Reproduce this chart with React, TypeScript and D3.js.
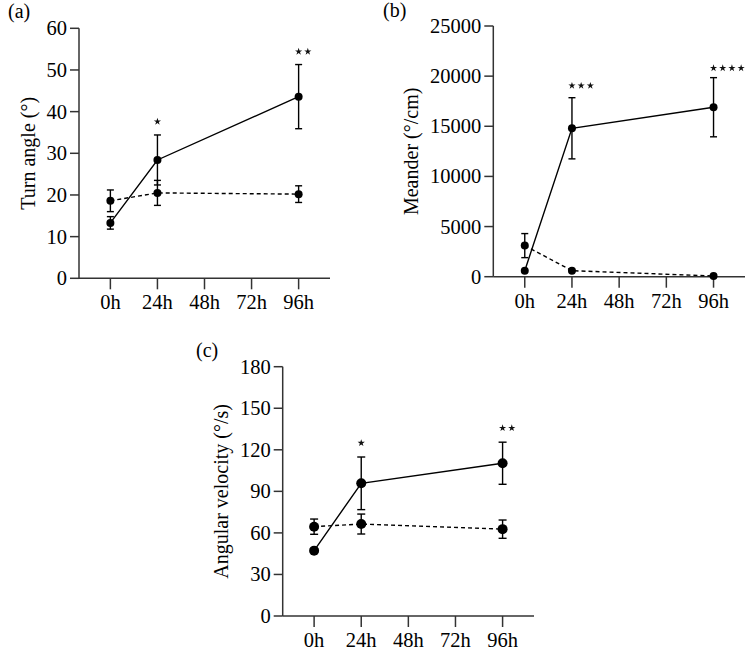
import React from 'react';
import * as d3 from 'd3';

const timeTicks = [0, 24, 48, 72, 96];
const timeLabels = ['0h', '24h', '48h', '72h', '96h'];
const sampleTimes = [0, 24, 96];

// (a) Turn angle
const turnSolidMean = [13.3, 28.4, 43.6];
const turnSolidErr = [1.5, 6.0, 7.7];
const turnDashMean = [18.6, 20.5, 20.2];
const turnDashErr = [2.6, 3.0, 2.0];
const turnTicks = [0, 10, 20, 30, 40, 50, 60];
const turnStarTimes = [24, 96];
const turnStarValues = [37.6, 54.4];
const turnStarCounts = [1, 2];

// (b) Meander
const meanderSolidMean = [600, 14800, 16900];
const meanderSolidErr = [0, 3050, 2950];
const meanderDashMean = [3100, 600, 70];
const meanderDashErr = [1200, 0, 0];
const meanderTicks = [0, 5000, 10000, 15000, 20000, 25000];
const meanderStarTimes = [24, 96];
const meanderStarValues = [19050, 20800];
const meanderStarCounts = [3, 4];

// (c) Angular velocity
const angSolidMean = [47.2, 95.8, 110.3];
const angSolidErr = [0, 19, 15.2];
const angDashMean = [64.5, 66.4, 62.7];
const angDashErr = [5.5, 7.2, 6.6];
const angTicks = [0, 30, 60, 90, 120, 150, 180];
const angStarTimes = [24, 96];
const angStarValues = [124.9, 135.7];
const angStarCounts = [1, 2];

const FONT = '"Liberation Serif", "Times New Roman", serif';
const AXIS = '#333';

type PanelProps = {
  x0: number; x1: number; yTop: number; yBot: number;
  yMax: number; ticks: number[];
  solidMean: number[]; solidErr: number[];
  dashMean: number[]; dashErr: number[];
  starTimes: number[]; starValues: number[]; starCounts: number[];
  title: string; titleX: number; label: string; labelX: number; labelY: number;
  r: number; cap: number;
};

const starPath = d3.symbol(d3.symbolStar, 16)() || '';

function Panel(p: PanelProps) {
  const x = d3.scaleLinear().domain([-16, 112]).range([p.x0, p.x1]);
  const y = d3.scaleLinear().domain([0, p.yMax]).range([p.yBot, p.yTop]);
  const line = d3.line<number>().x((_, i) => x(sampleTimes[i])).y(d => y(d));
  const errBars = (means: number[], errs: number[], key: string) =>
    means.map((m, i) => {
      const e = errs[i];
      if (!e) return null;
      const cx = x(sampleTimes[i]);
      const t = y(m + e), b = y(m - e);
      return (
        <g key={key + i} stroke="#000" strokeWidth={1.4}>
          <line x1={cx} x2={cx} y1={t} y2={b} />
          <line x1={cx - p.cap / 2} x2={cx + p.cap / 2} y1={t} y2={t} />
          <line x1={cx - p.cap / 2} x2={cx + p.cap / 2} y1={b} y2={b} />
        </g>
      );
    });
  const midY = (p.yTop + p.yBot) / 2;
  return (
    <g fontFamily={FONT} fill="#000">
      <text x={p.labelX} y={p.labelY} fontSize={20}>{p.label}</text>
      <line x1={p.x0} x2={p.x0} y1={p.yTop} y2={p.yBot} stroke={AXIS} strokeWidth={1.5} />
      <line x1={p.x0} x2={p.x1} y1={p.yBot} y2={p.yBot} stroke={AXIS} strokeWidth={1.5} />
      {p.ticks.map(t => (
        <g key={'yt' + t}>
          <line x1={p.x0 - 9} x2={p.x0} y1={y(t)} y2={y(t)} stroke={AXIS} strokeWidth={1.5} />
          <text x={p.x0 - 12} y={y(t) + 7} fontSize={20.5} textAnchor="end">{t}</text>
        </g>
      ))}
      {timeTicks.map((t, i) => (
        <g key={'xt' + t}>
          <line x1={x(t)} x2={x(t)} y1={p.yBot} y2={p.yBot + 11} stroke={AXIS} strokeWidth={1.5} />
          <text x={x(t)} y={p.yBot + 31} fontSize={20.5} textAnchor="middle">{timeLabels[i]}</text>
        </g>
      ))}
      <text transform={`translate(${p.titleX},${midY}) rotate(-90)`} fontSize={20} textAnchor="middle">{p.title}</text>
      <path d={line(p.dashMean) || ''} fill="none" stroke="#000" strokeWidth={1.4} strokeDasharray="4,3" />
      {errBars(p.dashMean, p.dashErr, 'de')}
      {p.dashMean.map((m, i) => <circle key={'dc' + i} cx={x(sampleTimes[i])} cy={y(m)} r={p.r} fill="#000" />)}
      <path d={line(p.solidMean) || ''} fill="none" stroke="#000" strokeWidth={1.4} />
      {errBars(p.solidMean, p.solidErr, 'se')}
      {p.solidMean.map((m, i) => <circle key={'sc' + i} cx={x(sampleTimes[i])} cy={y(m)} r={p.r} fill="#000" />)}
      {p.starTimes.map((t, i) =>
        d3.range(p.starCounts[i]).map(k => (
          <path key={'st' + i + '_' + k} d={starPath}
            transform={`translate(${x(t) + k * 9.2},${y(p.starValues[i])})`} fill="#111" />
        ))
      )}
    </g>
  );
}

export default function App() {
  return (
    <div style={{ position: 'absolute', left: 0, top: 0 }}>
      <svg width={750} height={658} style={{ display: 'block', background: '#fff' }}>
        <Panel x0={79} x1={330} yTop={28.3} yBot={278.3} yMax={60} ticks={turnTicks}
          solidMean={turnSolidMean} solidErr={turnSolidErr} dashMean={turnDashMean} dashErr={turnDashErr}
          starTimes={turnStarTimes} starValues={turnStarValues} starCounts={turnStarCounts}
          title="Turn angle (°)" titleX={35} label="(a)" labelX={8} labelY={18} r={4} cap={7} />
        <Panel x0={493.3} x1={745} yTop={26} yBot={276.7} yMax={25000} ticks={meanderTicks}
          solidMean={meanderSolidMean} solidErr={meanderSolidErr} dashMean={meanderDashMean} dashErr={meanderDashErr}
          starTimes={meanderStarTimes} starValues={meanderStarValues} starCounts={meanderStarCounts}
          title="Meander (°/cm)" titleX={418} label="(b)" labelX={383} labelY={17} r={4} cap={7} />
        <Panel x0={282.7} x1={534} yTop={366.7} yBot={616} yMax={180} ticks={angTicks}
          solidMean={angSolidMean} solidErr={angSolidErr} dashMean={angDashMean} dashErr={angDashErr}
          starTimes={angStarTimes} starValues={angStarValues} starCounts={angStarCounts}
          title="Angular velocity (°/s)" titleX={228} label="(c)" labelX={196} labelY={357} r={5} cap={8} />
      </svg>
    </div>
  );
}
